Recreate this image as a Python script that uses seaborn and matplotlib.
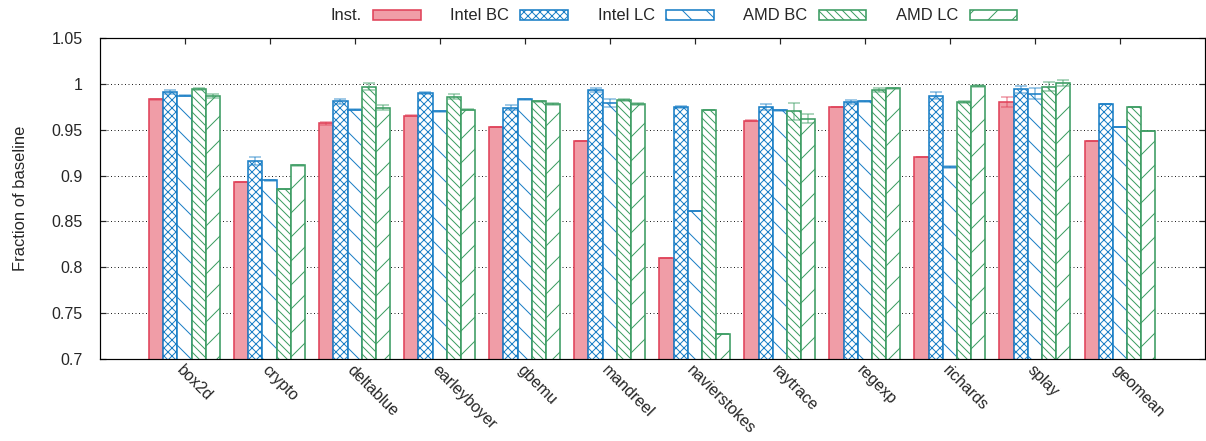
import numpy as np
import pandas as pd
import matplotlib
matplotlib.use("Agg")
import matplotlib.pyplot as plt
import seaborn as sns

benchmarks = ['box2d', 'crypto', 'deltablue', 'earleyboyer', 'gbemu', 'mandreel',
              'navierstokes', 'raytrace', 'regexp', 'richards', 'splay', 'geomean']
series_names = ['Inst.', 'Intel BC', 'Intel LC', 'AMD BC', 'AMD LC']

inst = [0.983, 0.893, 0.957, 0.965, 0.953, 0.938, 0.810, 0.960, 0.975, 0.920, 0.980, 0.938]
intel_bc = [0.991, 0.916, 0.981, 0.990, 0.974, 0.993, 0.975, 0.975, 0.980, 0.987, 0.994, 0.978]
intel_lc = [0.987, 0.895, 0.972, 0.970, 0.983, 0.979, 0.861, 0.971, 0.981, 0.909, 0.989, 0.953]
amd_bc = [0.994, 0.885, 0.997, 0.986, 0.981, 0.982, 0.972, 0.970, 0.993, 0.980, 0.997, 0.975]
amd_lc = [0.987, 0.911, 0.974, 0.972, 0.978, 0.978, 0.727, 0.962, 0.995, 0.998, 1.001, 0.949]

inst_err = [0.001, 0.0005, 0.0015, 0.0005, 0.0, 0.0, 0.0, 0.0005, 0.0, 0.0, 0.0055, 0.0]
intel_bc_err = [0.002, 0.004, 0.003, 0.001, 0.003, 0.002, 0.001, 0.003, 0.002, 0.004, 0.004, 0.0]
intel_lc_err = [0.0005, 0.0005, 0.0005, 0.0005, 0.0008, 0.004, 0.0, 0.001, 0.0005, 0.001, 0.006, 0.0]
amd_bc_err = [0.001, 0.0, 0.0035, 0.003, 0.0005, 0.001, 0.0, 0.009, 0.002, 0.001, 0.005, 0.0]
amd_lc_err = [0.002, 0.001, 0.003, 0.001, 0.001, 0.001, 0.0, 0.005, 0.001, 0.001, 0.003, 0.0]

yticks = [0.7, 0.75, 0.8, 0.85, 0.9, 0.95, 1.0, 1.05]
ytick_labels = ['0.7', '0.75', '0.8', '0.85', '0.9', '0.95', '1', '1.05']

values = [inst, intel_bc, intel_lc, amd_bc, amd_lc]
errors = [inst_err, intel_bc_err, intel_lc_err, amd_bc_err, amd_lc_err]

rows = []
for name, vals, errs in zip(series_names, values, errors):
    for b, v, e in zip(benchmarks, vals, errs):
        rows.append({'bench': b, 'series': name, 'value': v, 'err': e})
df = pd.DataFrame(rows)

RED = '#E0435A'
RED_FILL = '#F09DA7'
BLUE = '#1B7FC6'
GREEN = '#3C9C62'
styles = {
    'Inst.':    dict(face=RED_FILL, edge=RED, hatch=None),
    'Intel BC': dict(face='white', edge=BLUE, hatch='xxx'),
    'Intel LC': dict(face='white', edge=BLUE, hatch='\\'),
    'AMD BC':   dict(face='white', edge=GREEN, hatch='\\\\\\'),
    'AMD LC':   dict(face='white', edge=GREEN, hatch='/'),
}

sns.set_style('white')
plt.rcParams['font.family'] = ['Liberation Sans', 'DejaVu Sans']
plt.rcParams['hatch.linewidth'] = 1.0

W, H = 1206, 441
DPI = 72
fig = plt.figure(figsize=(W / DPI, H / DPI), dpi=DPI)
ax = fig.add_axes([99.5 / W, 1 - 359 / H, (1205 - 99.5) / W, (359 - 38) / H])

sns.barplot(data=df, x='bench', y='value', hue='series', order=benchmarks,
            hue_order=series_names, width=5 / 6, errorbar=None, legend=False,
            ax=ax, saturation=1)

for cont, name in zip(ax.containers, series_names):
    st = styles[name]
    cont.set_label(name)
    sub = df[df.series == name].set_index('bench').loc[benchmarks]
    xs = []
    for p in cont.patches:
        p.set_facecolor(st['face'])
        p.set_edgecolor(st['edge'])
        p.set_linewidth(1.6)
        if st['hatch']:
            p.set_hatch(st['hatch'])
        xs.append(p.get_x() + p.get_width() / 2)
    ax.errorbar(xs, sub['value'].values, yerr=sub['err'].values, fmt='none',
                ecolor=st['edge'], alpha=0.55, capsize=6, elinewidth=1.5,
                capthick=1.5, zorder=3)

ax.set_xlim(-1, 12)
ax.set_ylim(0.7, 1.05)
ax.set_yticks(yticks)
ax.set_yticklabels(ytick_labels)
ax.set_xlabel('')
ax.set_ylabel('Fraction of baseline', fontsize=16.5)
ax.yaxis.set_label_coords((28 - 99.5) / (1205 - 99.5), 0.5)
ax.yaxis.grid(True, linestyle=(0, (1, 2.5)), color='#222222', linewidth=1.0)
ax.xaxis.grid(False)
ax.set_axisbelow(True)
for s in ax.spines.values():
    s.set_visible(True)
    s.set_color('black')
    s.set_linewidth(1.2)
ax.tick_params(axis='both', direction='in', length=6, width=1.2,
               top=True, right=True, bottom=True, left=True)
ax.tick_params(axis='y', pad=17, labelsize=16)
plt.setp(ax.get_xticklabels(), rotation=-45, ha='left', va='top',
         rotation_mode='anchor', fontsize=16)

handles = list(ax.containers)
fig.legend(handles, series_names, loc='center', bbox_to_anchor=(674 / W, 1 - 16 / H),
           ncol=5, frameon=False, markerfirst=False, fontsize=16.5,
           handlelength=2.9, handleheight=0.55, handletextpad=0.67,
           columnspacing=1.8)

fig.savefig('out.png', dpi=DPI)
